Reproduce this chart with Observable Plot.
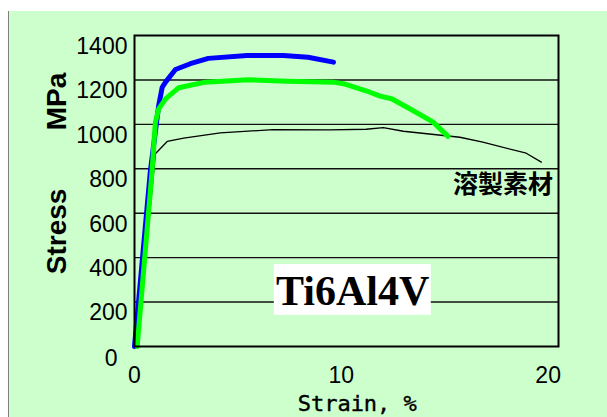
<!DOCTYPE html>
<html>
<head>
<meta charset="utf-8">
<script src="https://cdn.jsdelivr.net/npm/d3@7"></script>
<script src="https://cdn.jsdelivr.net/npm/@observablehq/plot@0.6"></script>
<style>
  html, body { margin: 0; padding: 0; background: #ffffff; }
  #wrap { position: relative; width: 607px; height: 417px; overflow: hidden; }
  #bg { position: absolute; left: 8px; top: 11px; right: 0; bottom: 0; background: #CCFFCC; border-left: 1px solid #808080; }
  #chart { position: absolute; left: 0; top: 0; }
</style>
</head>
<body>
<div id="wrap"><div id="bg"></div><div id="chart"></div></div>
<script>
// Blue curve
const blueStrain = [0, 0.77, 1.17, 1.34, 1.5, 1.98, 2.7, 3.57, 5.44, 7.19, 8.39, 9.62];
const blueStress = [0, 792, 1085, 1167, 1190, 1247, 1273, 1297, 1310, 1310, 1302, 1280];
// Green curve
const greenStrain = [0.13, 0.85, 1.01, 1.17, 1.5, 2.14, 3.42, 5.51, 7.37, 9.61, 10.1, 11.23, 11.87, 12.43, 13.31, 14.44, 15.16];
const greenStress = [0, 792, 1010, 1070, 1115, 1165, 1190, 1201, 1194, 1190, 1183, 1150, 1127, 1115, 1070, 1010, 946];
// Black curve (溶製素材)
const blackStrain = [0.13, 1.01, 1.58, 2.38, 4.15, 6.7, 9.45, 11.2, 12.03, 13.0, 15.73, 16.84, 18.94, 19.67];
const blackStress = [0, 868, 923, 938, 962, 976, 975, 978, 985, 969, 942, 920, 870, 830];
// Ticks
const yTicks = [200, 400, 600, 800, 1000, 1200, 1400];
const yGrid = [200, 400, 600, 800, 1000, 1200];
const xTicks = [0, 10, 20];

const toRows = (xs, ys) => xs.map((x, i) => ({strain: x, stress: ys[i]}));
const blue = toRows(blueStrain, blueStress);
const green = toRows(greenStrain, greenStress);
const black = toRows(blackStrain, blackStress);

const sans = "'Liberation Sans', Arial, sans-serif";
const fmt = d => String(d);

const chart = Plot.plot({
  width: 607,
  height: 417,
  marginLeft: 134,
  marginTop: 35,
  marginRight: 49,
  marginBottom: 71,
  style: {background: "transparent", fontFamily: sans, overflow: "visible"},
  x: {domain: [0, 20.5], axis: null},
  y: {domain: [0, 1400], axis: null},
  marks: [
    Plot.ruleY(yGrid, {stroke: "#111", strokeWidth: 1.4}),
    Plot.rect([0], {x1: 6.76, x2: 14.35, y1: 140, y2: 369, fill: "white"}),
    Plot.text(["Ti6Al4V"], {x: 10.55, y: 248, fontFamily: "'Liberation Serif', 'Times New Roman', serif", fontWeight: "bold", fontSize: 42, fill: "black"}),
    Plot.line(black, {x: "strain", y: "stress", stroke: "#000", strokeWidth: 1.3}),
    Plot.line(blue, {x: "strain", y: "stress", stroke: "#0000FF", strokeWidth: 5, strokeLinejoin: "round"}),
    Plot.line(green, {x: "strain", y: "stress", stroke: "#00FF00", strokeWidth: 5, strokeLinejoin: "round"}),
    Plot.frame({stroke: "#000", strokeWidth: 2}),
    Plot.axisY(yTicks, {tickSize: 0, tickPadding: 7, dy: 11, fontSize: 23, fill: "black", tickFormat: fmt, label: null, ariaLabel: "ylab"}),
    Plot.axisY([0], {tickSize: 0, tickPadding: 17, dy: 12, fontSize: 23, fill: "black", tickFormat: fmt, label: null, ariaLabel: "ylab"}),
    Plot.axisX(xTicks, {tickSize: 0, tickPadding: 20, fontSize: 23, fill: "black", tickFormat: fmt, label: null}),
    Plot.text(["溶製素材"], {x: 20.24, y: 729, textAnchor: "end", fontFamily: "'Noto Sans CJK JP', sans-serif", fontWeight: "bold", fontSize: 25, fill: "black"}),
    Plot.text(["MPa"], {y: 1103, frameAnchor: "left", textAnchor: "middle", lineAnchor: "middle", dx: -77, rotate: -90, fontWeight: "bold", fontSize: 28, fill: "black", ariaLabel: "mpa"}),
    Plot.text(["Stress"], {y: 518, frameAnchor: "left", textAnchor: "middle", lineAnchor: "middle", dx: -77, rotate: -90, fontWeight: "bold", fontSize: 28, fill: "black", ariaLabel: "stress"}),
    Plot.text(["Strain, %"], {x: 10.77, frameAnchor: "bottom", textAnchor: "middle", lineAnchor: "middle", dy: 57, fontFamily: "'DejaVu Sans Mono', monospace", fontWeight: "normal", fontSize: 22, fill: "black", stroke: "black", strokeWidth: 0.4, ariaLabel: "strain"})
  ]
});

const fit = (sel, len) => d3.select(chart).selectAll(sel).each(function() {
  const L = typeof len === "function" ? len(this.textContent) : len;
  this.setAttribute("textLength", L);
  this.setAttribute("lengthAdjust", "spacingAndGlyphs");
});
fit('g[aria-label="ylab"] text', t => t.length * 11.7);
fit('g[aria-label="mpa"] text', 46);
fit('g[aria-label="stress"] text', 72);
fit('g[aria-label="strain"] text', 107);

document.getElementById("chart").appendChild(chart);
</script>
</body>
</html>
